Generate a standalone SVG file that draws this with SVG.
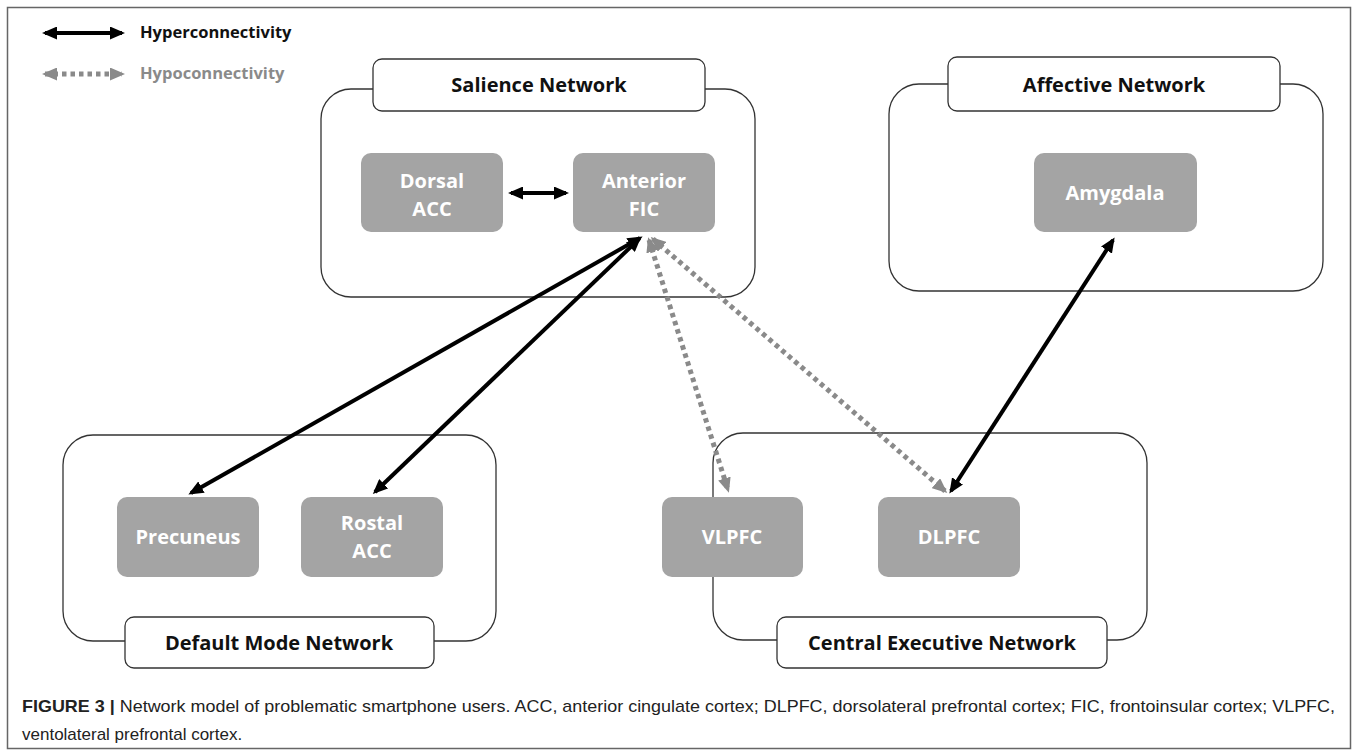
<svg xmlns="http://www.w3.org/2000/svg" width="1358" height="754" viewBox="0 0 1358 754">
<style>
.frame{fill:#fff;stroke:#666;stroke-width:1.5}
.net{fill:#fff;stroke:#333;stroke-width:1.3}
.ttl{fill:#fff;stroke:#333;stroke-width:1.3}
.ttx{font-family:"Open Sans","Noto Sans",sans-serif;font-weight:bold;font-size:20px;fill:#111;text-anchor:middle}
.node{fill:#a4a4a4}
.ntx{font-family:"Open Sans","Noto Sans",sans-serif;font-weight:bold;font-size:20px;fill:#fff;text-anchor:middle}
.hyper{stroke:#000;stroke-width:4;fill:none}
.hypo{stroke:#8a8a8a;stroke-width:5;fill:none;stroke-dasharray:4.5 4}
.leg{font-family:"Open Sans","Noto Sans",sans-serif;font-weight:bold;font-size:16.5px}
.cap{font-family:"Liberation Sans",Arial,sans-serif;font-size:17px;fill:#222}
</style>
<defs>
<marker id="ah" viewBox="0 0 15 13" markerWidth="15" markerHeight="13" refX="12" refY="6.5" orient="auto-start-reverse" markerUnits="userSpaceOnUse">
<path d="M0,0 L15,6.5 L0,13 z" fill="#000"/>
</marker>
<marker id="ag" viewBox="0 0 15 13" markerWidth="15" markerHeight="13" refX="12" refY="6.5" orient="auto-start-reverse" markerUnits="userSpaceOnUse">
<path d="M0,0 L15,6.5 L0,13 z" fill="#8a8a8a"/>
</marker>
</defs>
<rect class="frame" x="7.5" y="7.5" width="1343" height="741"/>

<g id="legend">
<line class="hyper" x1="45" y1="33" x2="122" y2="33" marker-start="url(#ah)" marker-end="url(#ah)"/>
<text class="leg" x="140" y="38" fill="#111">Hyperconnectivity</text>
<line class="hypo" x1="45" y1="74" x2="122" y2="74" marker-start="url(#ag)" marker-end="url(#ag)"/>
<text class="leg" x="140" y="79" fill="#8a8a8a">Hypoconnectivity</text>
</g>

<g id="salience-network">
<rect class="net" x="321" y="89" width="434" height="208" rx="30"/>
<rect class="ttl" x="373" y="59" width="332" height="52" rx="9"/>
<text class="ttx" x="539" y="92">Salience Network</text>
</g>
<g id="affective-network">
<rect class="net" x="889" y="84" width="434" height="207" rx="30"/>
<rect class="ttl" x="948" y="57" width="332" height="54" rx="9"/>
<text class="ttx" x="1114" y="92">Affective Network</text>
</g>
<g id="default-mode-network">
<rect class="net" x="63" y="435" width="433" height="206" rx="30"/>
<rect class="ttl" x="125" y="617" width="309" height="51" rx="9"/>
<text class="ttx" x="279" y="650">Default Mode Network</text>
</g>
<g id="central-executive-network">
<rect class="net" x="713" y="433" width="434" height="207" rx="30"/>
<rect class="ttl" x="777" y="617" width="330" height="51" rx="9"/>
<text class="ttx" x="942" y="650">Central Executive Network</text>
</g>

<g id="dorsal-acc">
<rect class="node" x="361" y="153" width="142" height="79" rx="10"/>
<text class="ntx" x="432" y="188">Dorsal</text>
<text class="ntx" x="432" y="216">ACC</text>
</g>
<g id="anterior-fic">
<rect class="node" x="573" y="153" width="142" height="79" rx="10"/>
<text class="ntx" x="644" y="188">Anterior</text>
<text class="ntx" x="644" y="216">FIC</text>
</g>
<g id="amygdala">
<rect class="node" x="1034" y="153" width="163" height="79" rx="10"/>
<text class="ntx" x="1115" y="200">Amygdala</text>
</g>
<g id="precuneus">
<rect class="node" x="117" y="497" width="142" height="80" rx="10"/>
<text class="ntx" x="188" y="544">Precuneus</text>
</g>
<g id="rostal-acc">
<rect class="node" x="301" y="497" width="142" height="80" rx="10"/>
<text class="ntx" x="372" y="530">Rostal</text>
<text class="ntx" x="372" y="558">ACC</text>
</g>
<g id="vlpfc">
<rect class="node" x="662" y="497" width="141" height="80" rx="10"/>
<text class="ntx" x="732" y="544">VLPFC</text>
</g>
<g id="dlpfc">
<rect class="node" x="878" y="497" width="142" height="80" rx="10"/>
<text class="ntx" x="949" y="544">DLPFC</text>
</g>

<g id="connectors">
<line class="hyper" x1="511" y1="193" x2="566" y2="193" marker-start="url(#ah)" marker-end="url(#ah)"/>
<line class="hyper" x1="640" y1="238" x2="191" y2="493" marker-start="url(#ah)" marker-end="url(#ah)"/>
<line class="hyper" x1="639" y1="239" x2="375" y2="492" marker-start="url(#ah)" marker-end="url(#ah)"/>
<line class="hypo" x1="649" y1="240" x2="728" y2="490" marker-start="url(#ag)" marker-end="url(#ag)"/>
<line class="hypo" x1="653" y1="239" x2="945" y2="491" marker-start="url(#ag)" marker-end="url(#ag)"/>
<line class="hyper" x1="1113" y1="240" x2="951" y2="491" marker-start="url(#ah)" marker-end="url(#ah)"/>
</g>

<g id="caption">
<text class="cap" x="22" y="712" textLength="1313" lengthAdjust="spacingAndGlyphs"><tspan font-weight="bold">FIGURE 3 |</tspan> Network model of problematic smartphone users. ACC, anterior cingulate cortex; DLPFC, dorsolateral prefrontal cortex; FIC, frontoinsular cortex; VLPFC,</text>
<text class="cap" x="22" y="740">ventolateral prefrontal cortex.</text>
</g>
</svg>
